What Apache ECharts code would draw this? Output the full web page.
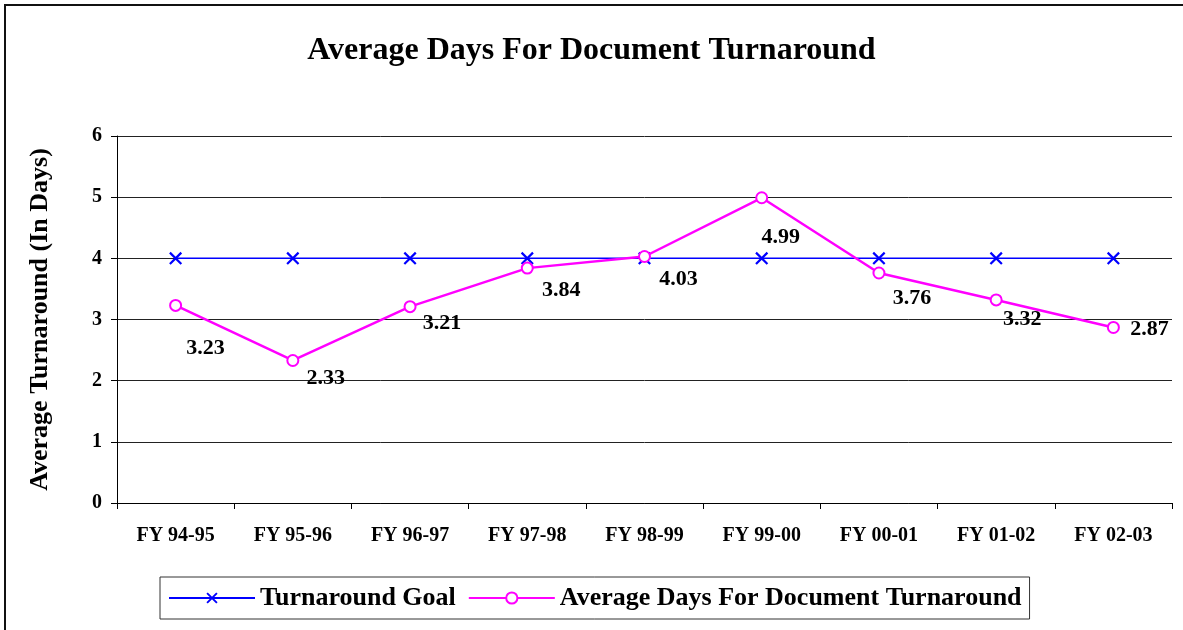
<!DOCTYPE html>
<html>
<head>
<meta charset="utf-8">
<script src="https://cdn.jsdelivr.net/npm/echarts@6/dist/echarts.min.js"></script>
<style>
  html, body { margin: 0; padding: 0; background: #fff; }
  #chart { width: 1183px; height: 630px; }
</style>
</head>
<body>
<div id="chart"></div>
<script>
const categories = ['FY 94-95', 'FY 95-96', 'FY 96-97', 'FY 97-98', 'FY 98-99', 'FY 99-00', 'FY 00-01', 'FY 01-02', 'FY 02-03'];
const goalValues = [4, 4, 4, 4, 4, 4, 4, 4, 4];
const avgValues = [3.23, 2.33, 3.21, 3.84, 4.03, 4.99, 3.76, 3.32, 2.87];
const yTicks = [0, 1, 2, 3, 4, 5, 6];

// where Excel put each label, relative to its point
const labelShift = [[30, 43], [33, 18], [32, 17], [34, 22], [34, 23], [19, 40], [33, 25], [26, 19], [36, 2]];

const serif = '"Liberation Serif", "Times New Roman", serif';
const crossPath = 'path://M0,1.2L1.2,0L10,8.8L8.8,10Z M8.8,0L10,1.2L1.2,10L0,8.8Z';

var chart = echarts.init(document.getElementById('chart'));

var option = {
  backgroundColor: '#fff',
  animation: false,
  textStyle: { fontFamily: serif },
  graphic: [{
    type: 'rect',
    shape: { x: 5, y: 5, width: 1200, height: 650 },
    style: { fill: 'none', stroke: '#111', lineWidth: 2 },
    silent: true
  }],
  title: {
    text: 'Average Days For Document Turnaround',
    left: 'center',
    top: 30,
    textStyle: { fontFamily: serif, fontSize: 32, fontWeight: 'bold', color: '#000' }
  },
  grid: { left: 117, right: 11, top: 136, bottom: 127 },
  legend: {
    bottom: 11,
    left: 160,
    width: 1000,
    itemWidth: 86,
    itemHeight: 14,
    itemGap: 12,
    padding: [8, 8, 8, 8],
    borderColor: '#333',
    borderWidth: 1,
    textStyle: { fontFamily: serif, fontSize: 26, fontWeight: 'bold', color: '#000' },
    data: ['Turnaround Goal', 'Average Days For Document Turnaround']
  },
  xAxis: {
    type: 'category',
    data: categories,
    boundaryGap: true,
    axisLine: { lineStyle: { color: '#000', width: 1 } },
    axisTick: { show: true, length: 6, alignWithLabel: false, lineStyle: { color: '#000' } },
    axisLabel: { margin: 23, fontFamily: serif, fontSize: 20, fontWeight: 'bold', color: '#000' }
  },
  yAxis: {
    type: 'value',
    min: yTicks[0],
    max: yTicks[yTicks.length - 1],
    interval: 1,
    name: 'Average Turnaround (In Days)',
    nameLocation: 'middle',
    nameGap: 64,
    nameTextStyle: { fontFamily: serif, fontSize: 26, fontWeight: 'bold', color: '#000' },
    axisLine: { show: true, lineStyle: { color: '#000', width: 1 } },
    axisTick: { show: true, length: 6, lineStyle: { color: '#000' } },
    axisLabel: { margin: 15, fontFamily: serif, fontSize: 20, fontWeight: 'bold', color: '#000' },
    splitLine: { show: true, lineStyle: { color: '#222', width: 1 } }
  },
  series: [
    {
      name: 'Turnaround Goal',
      type: 'line',
      data: goalValues,
      symbol: crossPath,
      symbolSize: 13,
      showAllSymbol: true,
      z: 2,
      lineStyle: { color: '#0000ff', width: 1.5 },
      itemStyle: { color: '#0000ff' }
    },
    {
      name: 'Average Days For Document Turnaround',
      type: 'line',
      data: avgValues.map(function (v, i) {
        return { value: v, label: { offset: labelShift[i] } };
      }),
      symbol: 'emptyCircle',
      symbolSize: 11,
      showAllSymbol: true,
      z: 3,
      lineStyle: { color: '#ff00ff', width: 2.5 },
      itemStyle: { color: '#ff00ff', borderColor: '#ff00ff', borderWidth: 2 },
      label: {
        show: true,
        position: 'inside',
        fontFamily: serif,
        fontSize: 22,
        fontWeight: 'bold',
        color: '#000',
        formatter: function (p) { return p.value.toFixed(2); }
      }
    }
  ]
};

chart.setOption(option);
</script>
</body>
</html>
